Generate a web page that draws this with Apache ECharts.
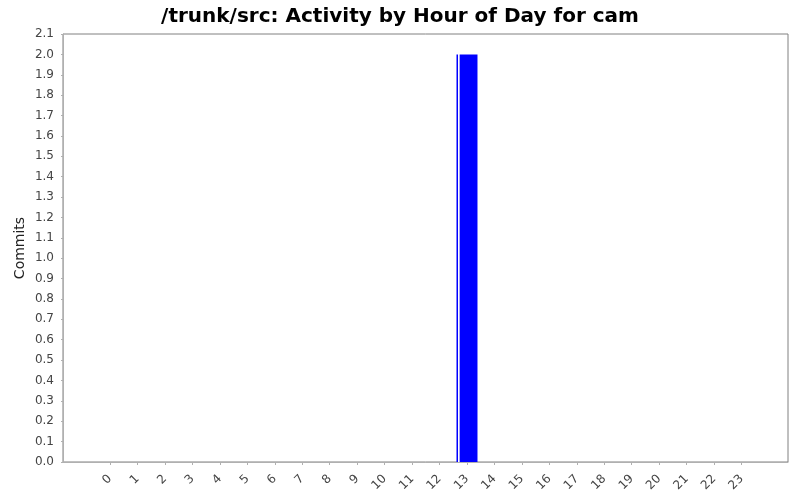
<!DOCTYPE html>
<html>
<head>
<meta charset="utf-8">
<script src="https://cdn.jsdelivr.net/npm/echarts@6/dist/echarts.min.js"></script>
<style>
  html, body { margin: 0; padding: 0; background: #fff; }
  #chart { width: 800px; height: 500px; }
</style>
</head>
<body>
<div id="chart"></div>
<script type="text/javascript">
    // hours of the day and commit counts
    var hours = ['0','1','2','3','4','5','6','7','8','9','10','11','12','13','14','15','16','17','18','19','20','21','22','23'];
    var commits = [0,0,0,0,0,0,0,0,0,0,0,0,0,2,0,0,0,0,0,0,0,0,0,0];

    var chart = echarts.init(document.getElementById('chart'));
    var labelFont = { fontFamily: 'DejaVu Sans', fontSize: 12, color: '#444' };

    var options = {
        backgroundColor: '#fff',
        animation: false,
        title: {
            text: '/trunk/src: Activity by Hour of Day for cam',
            left: 'center',
            top: 2,
            textStyle: { fontFamily: 'DejaVu Sans', fontSize: 20, fontWeight: 'bold', color: '#000' }
        },
        grid: [
            // outer frame with the value axis
            { left: 63, top: 34, right: 12, bottom: 38, show: true, borderColor: '#808080', borderWidth: 1, backgroundColor: '#fff' },
            // inner area for the categories (category margins)
            { left: 96.3, top: 34, width: 659, bottom: 38 }
        ],
        xAxis: [
            {
                gridIndex: 0, type: 'value', min: 0, max: 1, offset: 4,
                axisLine: { show: true, lineStyle: { color: '#b0b0b0' } },
                axisTick: { show: false }, axisLabel: { show: false }, splitLine: { show: false }
            },
            {
                gridIndex: 1, type: 'category', data: hours, offset: 4,
                axisLine: { show: false },
                axisTick: { show: true, alignWithLabel: true, length: 3, lineStyle: { color: '#b0b0b0' } },
                axisLabel: Object.assign({ rotate: 45, interval: 0, margin: 11 }, labelFont),
                splitLine: { show: false }
            }
        ],
        yAxis: [
            {
                gridIndex: 0, type: 'value', min: 0, max: 2.1, interval: 0.1, offset: 4,
                name: 'Commits', nameLocation: 'middle', nameGap: 32, nameMoveOverlap: false,
                nameTextStyle: { fontFamily: 'DejaVu Sans', fontSize: 14, color: '#222' },
                axisLine: { show: true, lineStyle: { color: '#b0b0b0' } },
                axisTick: { show: true, length: 2, lineStyle: { color: '#b0b0b0' } },
                axisLabel: Object.assign({ margin: 5, formatter: function (v) { return v.toFixed(1); } }, labelFont),
                splitLine: { show: false }
            },
            {
                gridIndex: 1, type: 'value', min: 0, max: 2.1, show: false,
                splitLine: { show: false }
            }
        ],
        series: [{
            name: 'Commits',
            type: 'bar',
            xAxisIndex: 1,
            yAxisIndex: 1,
            data: commits,
            barWidth: 21,
            itemStyle: {
                color: new echarts.graphic.LinearGradient(0, 0, 1, 0, [
                    { offset: 0, color: '#0000ff' },
                    { offset: 0.06, color: '#0000ff' },
                    { offset: 0.07, color: '#ffffff' },
                    { offset: 0.14, color: '#ffffff' },
                    { offset: 0.15, color: '#0000ff' },
                    { offset: 1, color: '#0000ff' }
                ])
            }
        }]
    };
    chart.setOption(options);
</script>
</body>
</html>
